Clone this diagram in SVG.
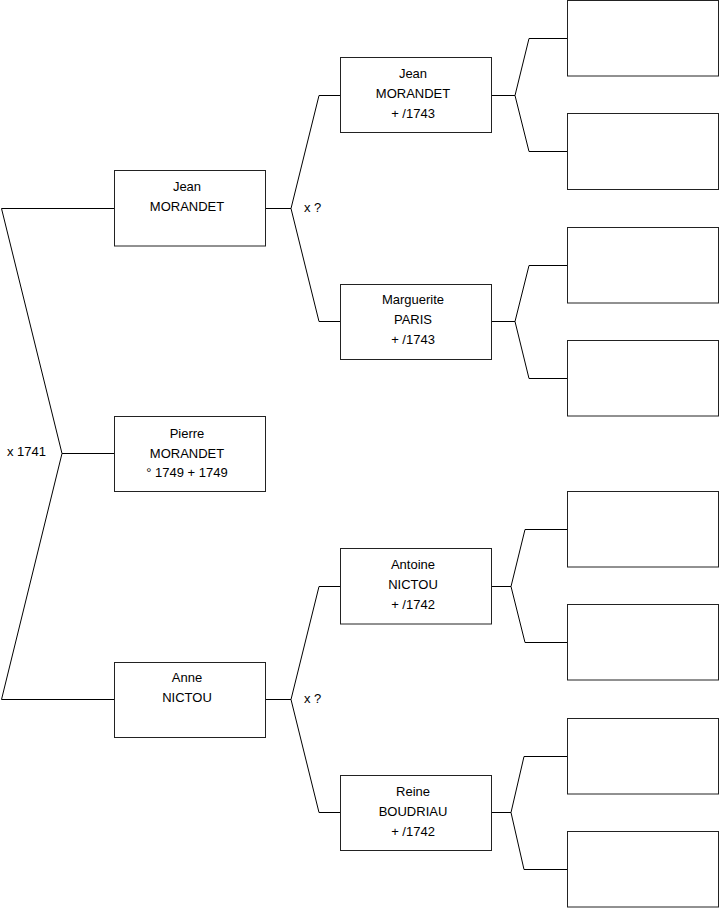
<svg xmlns="http://www.w3.org/2000/svg" width="719" height="908" viewBox="0 0 719 908">
<style>
.box{fill:#fff;stroke:#222;stroke-width:1}
.ln{fill:none;stroke:#000;stroke-width:1}
text{font-family:"Liberation Sans",Arial,sans-serif;font-size:13px;fill:#000}
.c{text-anchor:middle}
</style>
<rect width="719" height="908" fill="#fff"/>
<g id="connectors">
<polyline class="ln" points="114,208.5 1.5,208.5 62,453.5 1.5,699.5 114,699.5"/>
<line class="ln" x1="62" y1="453.5" x2="114" y2="453.5"/>
<polyline class="ln" points="341,95.5 319,95.5 291,208.5 319,321.5 341,321.5"/>
<line class="ln" x1="265" y1="208.5" x2="291" y2="208.5"/>
<polyline class="ln" points="341,586.5 319,586.5 291,699.5 319,812.5 341,812.5"/>
<line class="ln" x1="265" y1="699.5" x2="291" y2="699.5"/>
<polyline class="ln" points="567,38.5 529,38.5 515,95.5 529,151.5 567,151.5"/>
<line class="ln" x1="491" y1="95.5" x2="515" y2="95.5"/>
<polyline class="ln" points="567,265.5 529,265.5 515,321.5 529,378.5 567,378.5"/>
<line class="ln" x1="491" y1="321.5" x2="515" y2="321.5"/>
<polyline class="ln" points="567,529.5 525,529.5 511,586.5 525,642.5 567,642.5"/>
<line class="ln" x1="491" y1="586.5" x2="511" y2="586.5"/>
<polyline class="ln" points="567,756.5 524,756.5 511,812.5 524,869.5 567,869.5"/>
<line class="ln" x1="491" y1="812.5" x2="511" y2="812.5"/>
<text x="7" y="456">x 1741</text>
<text x="304" y="212">x ?</text>
<text x="304" y="703">x ?</text>
</g>
<g id="n-jean1"><rect class="box" x="114.5" y="170.5" width="151" height="75.5"/><text class="c" x="187" y="191">Jean</text><text class="c" x="187" y="211">MORANDET</text></g>
<g id="n-pierre"><rect class="box" x="114.5" y="416.5" width="151" height="75"/><text class="c" x="187" y="438">Pierre</text><text class="c" x="187" y="458">MORANDET</text><text class="c" x="187" y="477">° 1749 + 1749</text></g>
<g id="n-anne"><rect class="box" x="114.5" y="662.5" width="151" height="75"/><text class="c" x="187" y="682">Anne</text><text class="c" x="187" y="702">NICTOU</text></g>
<g id="n-jean2"><rect class="box" x="340.5" y="57.5" width="151" height="75"/><text class="c" x="413" y="78">Jean</text><text class="c" x="413" y="98">MORANDET</text><text class="c" x="413" y="118">+ /1743</text></g>
<g id="n-marguerite"><rect class="box" x="340.5" y="284.5" width="151" height="75"/><text class="c" x="413" y="304">Marguerite</text><text class="c" x="413" y="324">PARIS</text><text class="c" x="413" y="344">+ /1743</text></g>
<g id="n-antoine"><rect class="box" x="340.5" y="548.5" width="151" height="75.5"/><text class="c" x="413" y="569">Antoine</text><text class="c" x="413" y="589">NICTOU</text><text class="c" x="413" y="609">+ /1742</text></g>
<g id="n-reine"><rect class="box" x="340.5" y="775.5" width="151" height="75"/><text class="c" x="413" y="796">Reine</text><text class="c" x="413" y="816">BOUDRIAU</text><text class="c" x="413" y="836">+ /1742</text></g>
<g id="n-g3-1"><rect class="box" x="567.5" y="0.5" width="151" height="75.5"/></g>
<g id="n-g3-2"><rect class="box" x="567.5" y="113.5" width="151" height="76"/></g>
<g id="n-g3-3"><rect class="box" x="567.5" y="227.5" width="151" height="75.5"/></g>
<g id="n-g3-4"><rect class="box" x="567.5" y="340.5" width="151" height="75.5"/></g>
<g id="n-g3-5"><rect class="box" x="567.5" y="491.5" width="151" height="75.5"/></g>
<g id="n-g3-6"><rect class="box" x="567.5" y="604.5" width="151" height="75.5"/></g>
<g id="n-g3-7"><rect class="box" x="567.5" y="718.5" width="151" height="75.5"/></g>
<g id="n-g3-8"><rect class="box" x="567.5" y="831.5" width="151" height="75.5"/></g>
</svg>
